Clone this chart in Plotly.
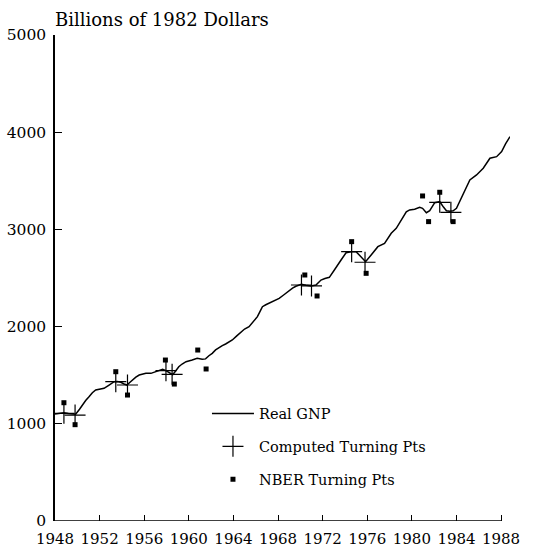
import plotly.graph_objects as go

# Real GNP (billions of 1982 dollars)
gnp_year = [1948.0, 1948.4, 1948.8, 1949.2, 1949.7, 1949.85, 1950.2, 1950.45, 1950.75, 1951.05,
            1951.35, 1951.65, 1952.0, 1952.4, 1952.85, 1953.3, 1953.6, 1953.9, 1954.2, 1954.45,
            1954.7, 1954.95, 1955.25, 1955.55, 1956.15, 1956.6, 1957.05, 1957.4, 1957.65, 1957.95,
            1958.3, 1958.55, 1958.8, 1959.1, 1959.4, 1959.75, 1960.3, 1960.75, 1961.2, 1961.5,
            1961.8, 1962.1, 1962.4, 1962.7, 1963.0, 1963.3, 1963.6, 1963.9, 1964.3, 1964.7,
            1965.0, 1965.4, 1965.8, 1966.15, 1966.4, 1966.6, 1966.9, 1967.2, 1967.6, 1968.1,
            1968.5, 1968.9, 1969.3, 1969.6, 1970.1, 1970.5, 1970.95, 1971.4, 1971.85, 1972.2,
            1972.6, 1973.05, 1973.35, 1973.65, 1974.1, 1974.55, 1975.0, 1975.45, 1975.85, 1976.35,
            1976.95, 1977.55, 1977.85, 1978.15, 1978.6, 1979.05, 1979.35, 1979.5, 1979.8, 1980.25,
            1980.7, 1980.96, 1981.3, 1981.6, 1982.05, 1982.5, 1982.85, 1983.1, 1983.4, 1983.7,
            1984.0, 1984.6, 1985.2, 1985.8, 1986.4, 1987.0, 1987.6, 1988.05, 1988.4, 1988.8]
gnp_value = [1100, 1108, 1114, 1105, 1102, 1098, 1150, 1193, 1240, 1279,
             1320, 1348, 1358, 1365, 1399, 1433, 1435, 1427, 1410, 1399,
             1425, 1451, 1480, 1502, 1519, 1519, 1536, 1548, 1560, 1547,
             1519, 1505, 1540, 1587, 1615, 1639, 1656, 1673, 1663, 1668,
             1700, 1725, 1760, 1787, 1805, 1821, 1840, 1862, 1905, 1948,
             1975, 1999, 2050, 2102, 2160, 2205, 2225, 2240, 2262, 2291,
             2325, 2365, 2395, 2415, 2435, 2425, 2418, 2428, 2479, 2495,
             2507, 2582, 2640, 2685, 2760, 2771, 2771, 2719, 2668, 2737,
             2822, 2857, 2910, 2960, 3011, 3100, 3148, 3180, 3200, 3207,
             3227, 3217, 3172, 3192, 3275, 3285, 3227, 3192, 3188, 3192,
             3217, 3371, 3508, 3560, 3629, 3732, 3748, 3800, 3880, 3954]

# Computed turning points
comp_year = [1948.8, 1949.8, 1953.45, 1954.5, 1957.95, 1958.5, 1970.1, 1971.0, 1974.6, 1975.8, 1982.5, 1983.5]
comp_value = [1108, 1090, 1433, 1399, 1547, 1509, 2428, 2418, 2771, 2662, 3279, 3176]

# NBER turning points
nber_year = [1948.8, 1949.8, 1953.45, 1954.5, 1957.9, 1958.7, 1960.8, 1961.55,
             1970.4, 1971.5, 1974.6, 1975.9, 1980.96, 1981.5, 1982.5, 1983.7]
nber_value = [1217, 991, 1536, 1296, 1656, 1409, 1759, 1564,
              2531, 2315, 2874, 2548, 3344, 3080, 3382, 3080]

x_ticks = list(range(1948, 1989, 4))
y_ticks = [0, 1000, 2000, 3000, 4000, 5000]

FONT = "DejaVu Serif"

fig = go.Figure()
fig.add_trace(go.Scatter(x=gnp_year, y=gnp_value, mode="lines", name="Real GNP",
                         line=dict(color="black", width=1.5), legendgroup="a"))
fig.add_trace(go.Scatter(x=comp_year, y=comp_value, mode="markers", name="Computed Turning Pts",
                         marker=dict(symbol="cross-thin", size=15, line=dict(color="black", width=1.2)),
                         legendgroup="b"))
fig.add_trace(go.Scatter(x=nber_year, y=nber_value, mode="markers", name="NBER Turning Pts",
                         marker=dict(symbol="square", size=5, color="black"), legendgroup="c"))

# x axis line only up to 1988
fig.add_shape(type="line", xref="x", yref="y", x0=1948, x1=1988, y0=0, y1=0,
              line=dict(color="black", width=1.5), layer="above")

fig.update_layout(
    width=537, height=550,
    margin=dict(l=55, r=27, t=35, b=29),
    paper_bgcolor="white", plot_bgcolor="white",
    font=dict(family=FONT, size=15, color="black"),
    showlegend=True,
    legend=dict(x=0.334, y=0.254, xanchor="left", yanchor="top",
                font=dict(family=FONT, size=14.5, color="black"),
                itemwidth=42, tracegroupgap=11, bgcolor="rgba(0,0,0,0)"),
    xaxis=dict(range=[1948, 1988.8], tickvals=x_ticks, ticktext=[str(v) for v in x_ticks],
               ticks="inside", ticklen=6, tickwidth=1.2, tickcolor="black",
               showline=False, showgrid=False, zeroline=False, automargin=False,
               ticklabelstandoff=7,
               tickfont=dict(family=FONT, size=15, color="black")),
    yaxis=dict(range=[0, 5000], tickvals=y_ticks, ticktext=[str(v) for v in y_ticks],
               ticks="inside", ticklen=7, tickwidth=1.2, tickcolor="black",
               showline=True, linecolor="black", linewidth=1.5,
               showgrid=False, zeroline=False, ticklabelstandoff=4, automargin=False,
               tickfont=dict(family=FONT, size=15.5, color="black")),
    annotations=[dict(text="Billions of 1982 Dollars", xref="paper", yref="paper",
                      x=0, y=1, xanchor="left", yanchor="bottom", yshift=3, xshift=-2,
                      showarrow=False, font=dict(family=FONT, size=18, color="black"))],
)

fig.write_html("out.html", config={"displayModeBar": False},
               post_script="document.body.style.margin='0';")
